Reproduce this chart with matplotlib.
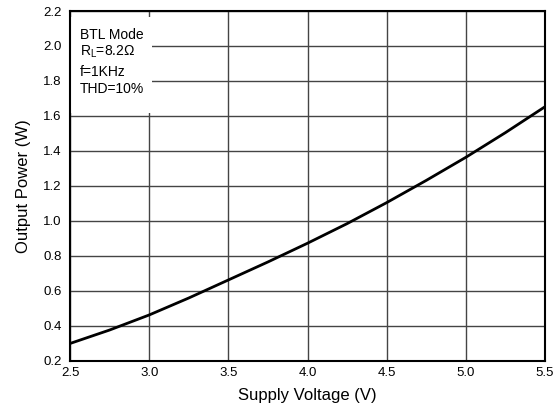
import matplotlib
matplotlib.use("Agg")
import matplotlib.pyplot as plt
from matplotlib.patches import Rectangle

plt.rcParams['font.family'] = ['Liberation Sans', 'DejaVu Sans']

voltage = [2.5, 2.75, 3.0, 3.25, 3.5, 3.75, 4.0, 4.25, 4.5, 4.75, 5.0, 5.25, 5.5]
power = [0.30, 0.377, 0.463, 0.560, 0.663, 0.766, 0.873, 0.985, 1.105, 1.232, 1.364, 1.505, 1.653]
xticks = [2.5, 3.0, 3.5, 4.0, 4.5, 5.0, 5.5]
yticks = [0.2, 0.4, 0.6, 0.8, 1.0, 1.2, 1.4, 1.6, 1.8, 2.0, 2.2]
notes = ["BTL Mode", r"R$_\mathregular{L}$=8.2Ω", "f=1KHz", "THD=10%"]

fig = plt.figure(figsize=(5.57, 4.12), dpi=100)
ax = fig.add_axes([0.1257, 0.1238, 0.8528, 0.8495])
ax.plot(voltage, power, color='black', lw=2.0, zorder=3)
ax.set_xlim(2.5, 5.5)
ax.set_ylim(0.2, 2.2)
ax.set_xticks(xticks)
ax.set_xticklabels([f"{t:.1f}" for t in xticks])
ax.set_yticks(yticks)
ax.set_yticklabels([f"{t:.1f}" for t in yticks])
ax.grid(True, color='#444444', lw=1.0)
ax.set_axisbelow(True)
ax.tick_params(axis='y', length=0, labelsize=9.5, pad=6)
ax.tick_params(axis='x', length=0, labelsize=9.5, pad=4)
for s in ax.spines.values():
    s.set_linewidth(1.5)
ax.set_xlabel("Supply Voltage (V)", fontsize=12, labelpad=7)
ax.set_ylabel("Output Power (W)", fontsize=12, labelpad=9)

ax.add_patch(Rectangle((0.0, 0.709), 0.173, 0.274, transform=ax.transAxes,
                       facecolor='white', edgecolor='none', zorder=2.5))
ys = [2.063, 1.966, 1.851, 1.754]
for t, yy in zip(notes, ys):
    ax.text(2.563, yy, t, fontsize=10, va='center', ha='left', zorder=4)

fig.savefig("out.png", dpi=100)
